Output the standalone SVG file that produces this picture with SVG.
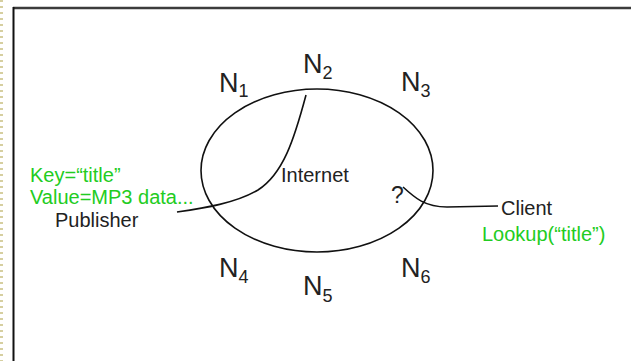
<svg xmlns="http://www.w3.org/2000/svg" width="631" height="361" viewBox="0 0 631 361">
<style>
text{font-family:"Liberation Sans",Arial,sans-serif;fill:#222}
.n{font-size:27px}
.sub{font-size:18px}
.t{font-size:20px}
.q{font-size:23px}
.g{fill:#22cc22}
.line{fill:none;stroke:#111;stroke-width:1.6}
</style>
<rect x="0" y="0" width="631" height="361" fill="#fff"/>
<line x1="1.5" y1="0" x2="1.5" y2="361" stroke="#d6cfa0" stroke-width="3" stroke-dasharray="2 4"/>
<line x1="13" y1="8" x2="631" y2="8" stroke="#3c3c3c" stroke-width="2.5"/>
<line x1="13.5" y1="7" x2="13.5" y2="361" stroke="#111" stroke-width="2"/>
<g id="internet">
<ellipse cx="317" cy="170.5" rx="116" ry="81.5" class="line"/>
<text class="t" x="281" y="182">Internet</text>
</g>
<g id="connectors">
<path class="line" d="M306,95 C294,140 283,174 258,190 C236,203 205,208 177,212"/>
<path class="line" d="M403,187 C415,198 425,207 447,207 L498,206"/>
</g>
<g id="n1"><text class="n" x="219" y="92">N<tspan class="sub" dy="5">1</tspan></text></g>
<g id="n2"><text class="n" x="303" y="73">N<tspan class="sub" dy="6">2</tspan></text></g>
<g id="n3"><text class="n" x="401" y="91">N<tspan class="sub" dy="6">3</tspan></text></g>
<g id="n4"><text class="n" x="219" y="277">N<tspan class="sub" dy="6">4</tspan></text></g>
<g id="n5"><text class="n" x="303" y="295">N<tspan class="sub" dy="7">5</tspan></text></g>
<g id="n6"><text class="n" x="401" y="277">N<tspan class="sub" dy="6">6</tspan></text></g>
<g id="publisher">
<text class="t g" x="30" y="182">Key=“title”</text>
<text class="t g" x="30" y="204">Value=MP3 data...</text>
<text class="t" x="55" y="227">Publisher</text>
</g>
<g id="client">
<text class="q" x="391" y="203">?</text>
<text class="t" x="501" y="215">Client</text>
<text class="t g" x="482" y="241">Lookup(“title”)</text>
</g>
</svg>
